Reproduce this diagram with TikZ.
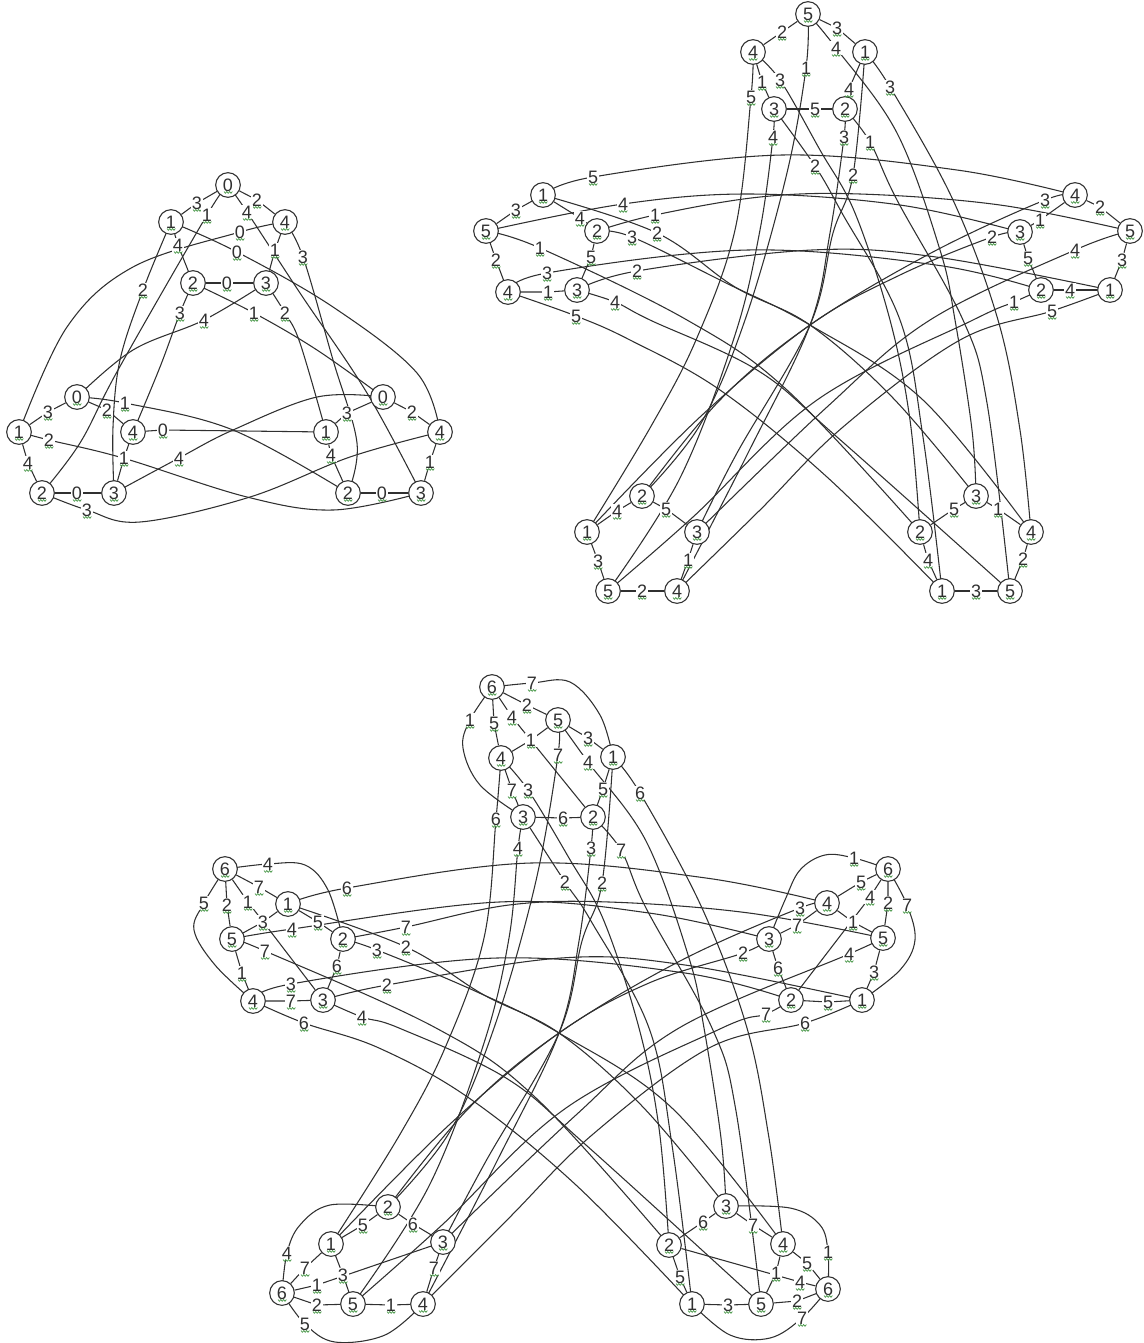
\documentclass[tikz,border=0pt]{standalone}
\usepackage{fontspec}
\setmainfont{Liberation Sans}
\pgfdeclarelayer{fg}
\pgfsetlayers{main,fg}
\definecolor{ink}{RGB}{48,48,48}
\definecolor{squg}{RGB}{70,150,70}
\tikzset{
  edge/.style={draw=ink,line width=0.8pt},
  vx/.style={circle,draw=ink,fill=white,line width=0.8pt,minimum size=18.5pt,inner sep=0pt,text=ink,font=\fontsize{13.5}{15}\selectfont},
  lab/.style={fill=white,inner sep=0.5pt,text=ink,font=\fontsize{13.5}{15}\selectfont},
  squig/.style={draw=squg,line width=0.5pt}
}
\newcommand\SQ[1]{\draw[squig] (#1.center) ++(-4,6.5) -- ++(1.4,1.8) -- ++(1.4,-1.8) -- ++(1.4,1.8) -- ++(1.4,-1.8) -- ++(1.4,1.8) -- ++(1.4,-1.8);}
\newcommand\V[4]{\node[vx] (#1) at (#2,#3) {#4};\SQ{#1}}
\newcommand\B[4]{\node[lab] (#1) at (#2,#3) {#4};\SQ{#1}}
\newcommand\SE[3]{\draw[edge] (#1) -- (#2) -- (#3);}
\newcommand\LL[4]{\draw[edge] plot[smooth,tension=.6] coordinates {(#1.center) (#2.center) #4 (#3.center)};}
\newcommand\LC[4]{\draw[edge] plot[smooth,tension=.6] coordinates {(#1.center) #4 (#3.center)};}
% the 25 long edges of a star; #1 = name prefix
\newcommand\StarLong[1]{%
 \LL{#1t5}{#1xa}{#1bl2}{(786,177) (745,320) (700,425)}
 \LL{#1t3}{#1xb}{#1bl5}{(760,230) (735,335) (680,478)}
 \LL{#1t4}{#1xc}{#1bl1}{(735,230) (696,340) (650,428)}
 \LL{#1t2}{#1xd}{#1bl4}{(830,233) (810,325) (748,453)}
 \LL{#1t1}{#1xe}{#1bl3}{(833,233) (810,325) (737,453)}
 \LL{#1t5}{#1xf}{#1br3}{(897,133) (940,250) (955,320) (972,430)}
 \LL{#1t2}{#1xg}{#1br5}{(897,200) (963,320) (987,403)}
 \LL{#1t1}{#1xh}{#1br4}{(953,200) (998,320) (1020,430)}
 \LL{#1t4}{#1xi}{#1br2}{(820,150) (855,213) (890,320) (910,420)}
 \LL{#1t3}{#1xj}{#1br1}{(842,213) (900,320) (923,437)}
 \LL{#1L1}{#1xk}{#1R4}{(782,155) (957,170)}
 \LL{#1L5}{#1xl}{#1R3}{(750,194) (900,205)}
 \LL{#1L2}{#1xm}{#1R5}{(760,197) (860,194) (1000,205)}
 \LL{#1L4}{#1xn}{#1R2}{(748,250) (936,265)}
 \LL{#1L3}{#1xo}{#1R1}{(812,250) (936,257)}
 \LL{#1R5}{#1xp}{#1bl3}{(930,320) (827,407)}
 \LL{#1R2}{#1xq}{#1bl5}{(973,320) (817,400) (693,517)}
 \LL{#1R1}{#1xr}{#1bl4}{(960,340) (843,427) (760,510)}
 \LL{#1R4}{#1xs}{#1bl2}{(931,253) (810,325) (720,400)}
 \LL{#1R3}{#1xt}{#1bl1}{(900,275) (810,325) (700,417)}
 \LL{#1L4}{#1xu}{#1br1}{(630,340) (720,390) (827,477)}
 \LL{#1L3}{#1xv}{#1br5}{(650,320) (757,370) (837,437)}
 \LL{#1L5}{#1xw}{#1br2}{(687,320) (787,390)}
 \LL{#1L2}{#1xx}{#1br4}{(726,283) (810,325) (923,400)}
 \LL{#1L1}{#1xy}{#1br3}{(735,287) (810,325) (893,398)}
}
\begin{document}
\begin{tikzpicture}[x=0.75pt,y=-0.75pt]
\useasboundingbox (0,0) rectangle (1143,1343);
\begin{pgfonlayer}{fg}
% ---- graph 1 nodes
\V{aT0}{228}{185}{0}\V{aT1}{171}{222}{1}\V{aT4}{285}{222}{4}\V{aT2}{193}{283}{2}\V{aT3}{266}{283}{3}
\V{aL0}{77}{397}{0}\V{aL1}{19}{432}{1}\V{aL4}{133}{432}{4}\V{aL2}{42}{493}{2}\V{aL3}{114}{493}{3}
\V{aR0}{383}{397}{0}\V{aR1}{326}{432}{1}\V{aR4}{440}{432}{4}\V{aR2}{348}{493}{2}\V{aR3}{421}{493}{3}
% graph 1 labels
\B{a1}{197}{203}{3}\B{a2}{257}{200}{2}\B{a3}{207}{215}{1}\B{a4}{247}{212}{4}\B{a5}{237}{252}{0}
\B{a6}{143}{290}{2}\B{a7}{178}{245}{4}\B{a8}{240}{232}{0}\B{a9}{275}{250}{1}\B{a10}{303}{257}{3}
\B{a11}{285}{313}{2}\B{a12}{227}{283}{0}\B{a13}{180}{313}{3}\B{a14}{254}{313}{1}\B{a15}{204}{320}{4}
\B{a16}{48}{412}{3}\B{a17}{107}{410}{2}\B{a18}{125}{403}{1}\B{a19}{49}{440}{2}\B{a20}{28}{463}{4}
\B{a21}{124}{458}{1}\B{a22}{163}{430}{0}\B{a23}{77}{493}{0}\B{a24}{87}{510}{3}\B{a25}{179}{458}{4}
\B{a26}{347}{413}{3}\B{a27}{412}{412}{2}\B{a28}{331}{455}{4}\B{a29}{430}{462}{1}\B{a30}{382}{493}{0}
% ---- graph 2 nodes
\V{bt5}{808}{14}{5}\V{bt4}{753}{52}{4}\V{bt1}{865}{52}{1}\V{bt3}{774}{109}{3}\V{bt2}{845}{109}{2}
\V{bL1}{543}{195}{1}\V{bL5}{486}{231}{5}\V{bL2}{597}{231}{2}\V{bL4}{508}{292}{4}\V{bL3}{577}{290}{3}
\V{bR4}{1075}{195}{4}\V{bR3}{1020}{232}{3}\V{bR5}{1130}{231}{5}\V{bR2}{1041}{290}{2}\V{bR1}{1110}{290}{1}
\V{bbl2}{642}{496}{2}\V{bbl1}{587}{532}{1}\V{bbl3}{697}{532}{3}\V{bbl5}{608}{591}{5}\V{bbl4}{677}{591}{4}
\V{bbr3}{976}{496}{3}\V{bbr2}{920}{532}{2}\V{bbr4}{1031}{532}{4}\V{bbr1}{942}{591}{1}\V{bbr5}{1010}{591}{5}
% graph 2 long labels
\B{bxa}{806}{68}{1}\B{bxb}{773}{137}{4}\B{bxc}{751}{97}{5}\B{bxd}{844}{137}{3}\B{bxe}{853}{175}{2}
\B{bxf}{836}{48}{4}\B{bxg}{870}{142}{1}\B{bxh}{890}{87}{3}\B{bxi}{780}{80}{3}\B{bxj}{815}{166}{2}
\B{bxk}{593}{177}{5}\B{bxl}{623}{204}{4}\B{bxm}{655}{215}{1}\B{bxn}{547}{273}{3}\B{bxo}{637}{271}{2}
\B{bxp}{1075}{250}{4}\B{bxq}{1014}{302}{1}\B{bxr}{1052}{311}{5}\B{bxs}{1045}{200}{3}\B{bxt}{992}{237}{2}
\B{bxu}{576}{316}{5}\B{bxv}{615}{302}{4}\B{bxw}{540}{248}{1}\B{bxx}{632}{237}{3}\B{bxy}{657}{233}{2}
% graph 2 local labels
\B{b1}{782}{32}{2}\B{b2}{837}{28}{3}\B{b3}{762}{82}{1}\B{b4}{849}{89}{4}\B{b5}{815}{109}{5}
\B{b6}{516}{210}{3}\B{b7}{580}{218}{4}\B{b8}{496}{260}{2}\B{b9}{591}{257}{5}\B{b10}{548}{292}{1}
\B{b11}{1100}{207}{2}\B{b12}{1040}{220}{1}\B{b13}{1028}{258}{5}\B{b14}{1122}{260}{3}\B{b15}{1070}{290}{4}
\B{b16}{617}{511}{4}\B{b17}{666}{509}{5}\B{b18}{598}{561}{3}\B{b19}{688}{560}{1}\B{b20}{642}{591}{2}
\B{b21}{954}{509}{5}\B{b22}{998}{509}{1}\B{b23}{928}{560}{4}\B{b24}{1023}{559}{2}\B{b25}{976}{591}{3}
% ---- graph 3 nodes
\V{ct6}{492}{687}{6}\V{ct5}{558}{720}{5}\V{ct1}{613}{757}{1}\V{ct4}{501}{758}{4}\V{ct3}{523}{817}{3}\V{ct2}{593}{817}{2}
\V{cL6}{225}{869}{6}\V{cL1}{288}{904}{1}\V{cL5}{232}{939}{5}\V{cL2}{343}{939}{2}\V{cL4}{253}{1001}{4}\V{cL3}{323}{1000}{3}
\V{cR6}{888}{869}{6}\V{cR4}{827}{903}{4}\V{cR3}{769}{939}{3}\V{cR5}{883}{938}{5}\V{cR2}{791}{1000}{2}\V{cR1}{862}{1000}{1}
\V{cbl2}{388}{1207}{2}\V{cbl1}{331}{1244}{1}\V{cbl3}{443}{1242}{3}\V{cbl6}{282}{1293}{6}\V{cbl5}{353}{1304}{5}\V{cbl4}{423}{1304}{4}
\V{cbr3}{726}{1206}{3}\V{cbr2}{669}{1245}{2}\V{cbr4}{783}{1244}{4}\V{cbr1}{692}{1304}{1}\V{cbr5}{761}{1304}{5}\V{cbr6}{828}{1289}{6}
% graph 3 long labels
\B{cxa}{558}{755}{7}\B{cxb}{518}{848}{4}\B{cxc}{496}{819}{6}\B{cxd}{591}{848}{3}\B{cxe}{602}{883}{2}
\B{cxf}{588}{762}{4}\B{cxg}{621}{850}{7}\B{cxh}{640}{793}{6}\B{cxi}{528}{790}{3}\B{cxj}{565}{882}{2}
\B{cxk}{347}{888}{6}\B{cxl}{292}{929}{4}\B{cxm}{406}{927}{7}\B{cxn}{291}{984}{3}\B{cxo}{387}{985}{2}
\B{cxp}{849}{954}{4}\B{cxq}{766}{1014}{7}\B{cxr}{805}{1023}{6}\B{cxs}{800}{908}{3}\B{cxt}{743}{953}{2}
\B{cxu}{304}{1023}{6}\B{cxv}{362}{1017}{4}\B{cxw}{265}{951}{7}\B{cxx}{377}{950}{3}\B{cxy}{406}{947}{2}
% graph 3 local labels
\B{c1}{532}{683}{7}\B{c2}{527}{705}{2}\B{c3}{470}{720}{1}\B{c4}{494}{723}{5}\B{c5}{512}{717}{4}
\B{c6}{588}{738}{3}\B{c7}{531}{740}{1}\B{c8}{512}{790}{7}\B{c9}{563}{818}{6}\B{c10}{603}{789}{5}
\B{d1}{268}{864}{4}\B{d2}{259}{887}{7}\B{d3}{204}{903}{5}\B{d4}{227}{905}{2}\B{d5}{248}{902}{1}
\B{d6}{263}{922}{3}\B{d7}{318}{922}{5}\B{d8}{242}{973}{1}\B{d9}{337}{966}{6}\B{d10}{291}{1001}{7}
\B{e1}{854}{858}{1}\B{e2}{861}{882}{5}\B{e3}{870}{897}{4}\B{e4}{888}{903}{2}\B{e5}{907}{905}{7}
\B{e6}{797}{925}{7}\B{e7}{853}{922}{1}\B{e8}{778}{968}{6}\B{e9}{874}{972}{3}\B{e10}{828}{1002}{5}
\B{f1}{287}{1253}{4}\B{f2}{363}{1225}{5}\B{f3}{413}{1224}{6}\B{f4}{305}{1268}{7}\B{f5}{343}{1275}{3}
\B{f6}{317}{1285}{1}\B{f7}{317}{1305}{2}\B{f8}{434}{1268}{7}\B{f9}{391}{1305}{1}\B{f10}{305}{1324}{5}
\B{g1}{703}{1222}{6}\B{g2}{753}{1225}{7}\B{g3}{828}{1252}{1}\B{g4}{807}{1263}{5}\B{g5}{776}{1273}{1}
\B{g6}{800}{1282}{4}\B{g7}{680}{1277}{5}\B{g8}{728}{1305}{3}\B{g9}{797}{1301}{2}\B{g10}{802}{1318}{7}
\end{pgfonlayer}
% ---- graph 1 local edges
\SE{aT0}{a1}{aT1}\SE{aT0}{a2}{aT4}\SE{aT1}{a7}{aT2}\SE{aT4}{a9}{aT3}\SE{aT2}{a12}{aT3}
\SE{aL0}{a16}{aL1}\SE{aL0}{a17}{aL4}\SE{aL1}{a20}{aL2}\SE{aL4}{a21}{aL3}\SE{aL2}{a23}{aL3}
\SE{aR0}{a26}{aR1}\SE{aR0}{a27}{aR4}\SE{aR1}{a28}{aR2}\SE{aR4}{a29}{aR3}\SE{aR2}{a30}{aR3}
\SE{aL4}{a22}{aR1}
% graph 1 long edges
\LL{aT0}{a3}{aL2}{(118,370) (80,443)}
\LL{aT0}{a4}{aR3}{(300,293) (367,393)}
\LL{aT1}{a5}{aR4}{(333,307) (417,373)}
\LL{aT1}{a6}{aL3}{(120,360) (113,427)}
\LL{aT4}{a8}{aL1}{(133,267) (67,327)}
\LL{aT4}{a10}{aR2}{(333,360) (357,443)}
\LL{aT3}{a11}{aR1}{(300,343)}
\LL{aT2}{a13}{aL4}{(160,367)}
\LL{aT2}{a14}{aR0}{(317,350)}
\LL{aT3}{a15}{aL0}{(133,350)}
\LL{aL0}{a18}{aR2}{(233,430)}
\LL{aL1}{a19}{aR3}{(123,458) (247,497) (333,510)}
\LL{aL2}{a24}{aR4}{(140,522) (250,497) (350,457)}
\LL{aL3}{a25}{aR0}{(233,430) (317,397)}
% ---- graph 2 local edges
\SE{bt5}{b1}{bt4}\SE{bt5}{b2}{bt1}\SE{bt4}{b3}{bt3}\SE{bt1}{b4}{bt2}\SE{bt3}{b5}{bt2}
\SE{bL1}{b6}{bL5}\SE{bL1}{b7}{bL2}\SE{bL5}{b8}{bL4}\SE{bL2}{b9}{bL3}\SE{bL4}{b10}{bL3}
\SE{bR4}{b11}{bR5}\SE{bR4}{b12}{bR3}\SE{bR3}{b13}{bR2}\SE{bR5}{b14}{bR1}\SE{bR2}{b15}{bR1}
\SE{bbl1}{b16}{bbl2}\SE{bbl2}{b17}{bbl3}\SE{bbl1}{b18}{bbl5}\SE{bbl3}{b19}{bbl4}\SE{bbl5}{b20}{bbl4}
\SE{bbr2}{b21}{bbr3}\SE{bbr3}{b22}{bbr4}\SE{bbr2}{b23}{bbr1}\SE{bbr4}{b24}{bbr5}\SE{bbr1}{b25}{bbr5}
\StarLong{b}
% ---- graph 3 local edges, top
\SE{ct6}{c2}{ct5}\SE{ct6}{c4}{ct4}\SE{ct6}{c5}{ct2}\SE{ct5}{c6}{ct1}\SE{ct5}{c7}{ct4}\SE{ct4}{c8}{ct3}\SE{ct3}{c9}{ct2}\SE{ct1}{c10}{ct2}
\LC{ct6}{c1}{ct1}{(532,683) (570,682) (600,715)}
\LC{ct6}{c3}{ct3}{(470,720) (463,748) (480,785)}
% left
\SE{cL6}{d2}{cL1}\SE{cL6}{d4}{cL5}\SE{cL6}{d5}{cL3}\SE{cL5}{d6}{cL1}\SE{cL1}{d7}{cL2}\SE{cL5}{d8}{cL4}\SE{cL2}{d9}{cL3}\SE{cL4}{d10}{cL3}
\LC{cL6}{d1}{cL2}{(268,864) (305,865) (328,890)}
\LC{cL6}{d3}{cL4}{(204,903) (194,930) (215,965)}
% right
\SE{cR6}{e2}{cR4}\SE{cR6}{e3}{cR2}\SE{cR6}{e4}{cR5}\SE{cR4}{e6}{cR3}\SE{cR4}{e7}{cR5}\SE{cR3}{e8}{cR2}\SE{cR5}{e9}{cR1}\SE{cR2}{e10}{cR1}
\LC{cR6}{e1}{cR3}{(854,858) (825,855) (800,870) (785,900)}
\LC{cR6}{e5}{cR1}{(907,905) (915,940) (900,970)}
% bottom left
\SE{cbl2}{f2}{cbl1}\SE{cbl2}{f3}{cbl3}\SE{cbl6}{f4}{cbl1}\SE{cbl1}{f5}{cbl5}\SE{cbl6}{f6}{cbl3}\SE{cbl6}{f7}{cbl5}\SE{cbl3}{f8}{cbl4}\SE{cbl5}{f9}{cbl4}
\LC{cbl6}{f1}{cbl2}{(287,1253) (300,1225) (330,1205)}
\LC{cbl6}{f10}{cbl4}{(305,1324) (335,1342) (385,1335)}
% bottom right
\SE{cbr3}{g1}{cbr2}\SE{cbr3}{g2}{cbr4}\SE{cbr2}{g7}{cbr1}\SE{cbr1}{g8}{cbr5}\SE{cbr4}{g5}{cbr5}\SE{cbr4}{g4}{cbr6}\SE{cbr2}{g6}{cbr6}\SE{cbr5}{g9}{cbr6}
\LC{cbr3}{g3}{cbr6}{(790,1208) (820,1225) (828,1252)}
\LC{cbr6}{g10}{cbr1}{(802,1318) (770,1338) (730,1335)}
\begin{scope}[shift={(-251,708)}]
\StarLong{c}
\end{scope}
\end{tikzpicture}
\end{document}
